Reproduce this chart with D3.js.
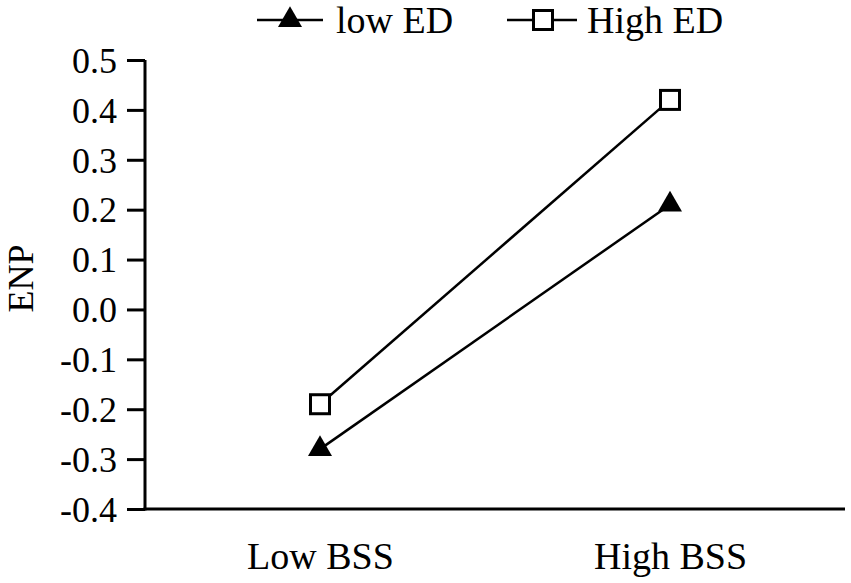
<!DOCTYPE html>
<html>
<head>
<meta charset="utf-8">
<script src="https://cdn.jsdelivr.net/npm/d3@7"></script>
<style>
  body { margin: 0; background: #fff; }
  svg text { font-family: "Liberation Serif", "Times New Roman", serif; fill: #000; }
</style>
</head>
<body>
<div id="chart"></div>
<script>
// x categories
const categories = ["Low BSS", "High BSS"];
// series values
const lowED = [-0.28, 0.21];
const highED = [-0.19, 0.42];
const seriesNames = ["low ED", "High ED"];
// y tick values
const yTicks = [-0.4, -0.3, -0.2, -0.1, 0.0, 0.1, 0.2, 0.3, 0.4, 0.5];

const W = 851, H = 583;
const margin = { top: 60, right: 6, bottom: 74, left: 145 };
const width = W - margin.left - margin.right,
      height = H - margin.top - margin.bottom;

const svg = d3.select("#chart")
    .append("svg")
    .attr("width", W)
    .attr("height", H)
    .append("g")
    .attr("transform", "translate(" + margin.left + "," + margin.top + ")");

const x = d3.scalePoint()
    .domain(categories)
    .range([0, width])
    .padding(0.5);

const y = d3.scaleLinear()
    .domain([-0.4, 0.5])
    .range([height, 0]);

// plain hyphen for negatives, like the original
const fmt = d => d.toFixed(1).replace("−", "-");

// y axis
const yAxis = svg.append("g")
    .call(d3.axisLeft(y).tickValues(yTicks).tickFormat(fmt).tickSize(18).tickPadding(10));
yAxis.select(".domain").attr("stroke-width", 3).attr("d", "M0," + (height + 1.5) + "V0");
yAxis.selectAll(".tick line").attr("stroke-width", 3);
yAxis.selectAll(".tick text").style("font-size", "36px").attr("dy", "0.34em");

// x axis
const xAxis = svg.append("g")
    .attr("transform", "translate(0," + height + ")")
    .call(d3.axisBottom(x).tickSize(0).tickPadding(33));
xAxis.select(".domain").attr("stroke-width", 3).attr("d", "M-1.5,0H" + width);
xAxis.selectAll(".tick text").style("font-size", "38px").attr("dy", "0.71em");

// y label
svg.append("text")
    .attr("transform", "rotate(-90)")
    .attr("x", -(y(0.05)) + 6)
    .attr("y", -112)
    .attr("text-anchor", "middle")
    .style("font-size", "36px")
    .text("ENP");

const line = d3.line()
    .x((d, i) => x(categories[i]))
    .y(d => y(d));

const tri = d3.symbol().type(d3.symbolTriangle).size(250);

// lines
[lowED, highED].forEach(vals => {
    svg.append("path")
        .attr("d", line(vals))
        .attr("fill", "none")
        .attr("stroke", "#000")
        .attr("stroke-width", 2.5);
});

// triangles (low ED)
svg.selectAll(".tri")
    .data(lowED)
    .enter()
    .append("path")
    .attr("class", "tri")
    .attr("transform", (d, i) => "translate(" + x(categories[i]) + "," + y(d) + ")")
    .attr("d", tri)
    .attr("fill", "#000");

// squares (High ED)
svg.selectAll(".sq")
    .data(highED)
    .enter()
    .append("rect")
    .attr("class", "sq")
    .attr("x", (d, i) => x(categories[i]) - 9.5)
    .attr("y", d => y(d) - 9.5)
    .attr("width", 19)
    .attr("height", 19)
    .attr("fill", "#fff")
    .attr("stroke", "#000")
    .attr("stroke-width", 3);

// legend
const legend = d3.select("svg").append("g");
const lg1 = legend.append("g").attr("transform", "translate(257,20)");
lg1.append("line").attr("x1", 0).attr("x2", 66).attr("stroke", "#000").attr("stroke-width", 2.5);
lg1.append("path").attr("transform", "translate(33,0)").attr("d", tri).attr("fill", "#000");
lg1.append("text").attr("x", 79).attr("y", 13).style("font-size", "38px").text(seriesNames[0]);

const lg2 = legend.append("g").attr("transform", "translate(507,20)");
lg2.append("line").attr("x1", 0).attr("x2", 70).attr("stroke", "#000").attr("stroke-width", 2.5);
lg2.append("rect").attr("x", 26.5).attr("y", -9.5).attr("width", 19).attr("height", 19)
    .attr("fill", "#fff").attr("stroke", "#000").attr("stroke-width", 3);
lg2.append("text").attr("x", 80).attr("y", 13).style("font-size", "38px").text(seriesNames[1]);
</script>
</body>
</html>
